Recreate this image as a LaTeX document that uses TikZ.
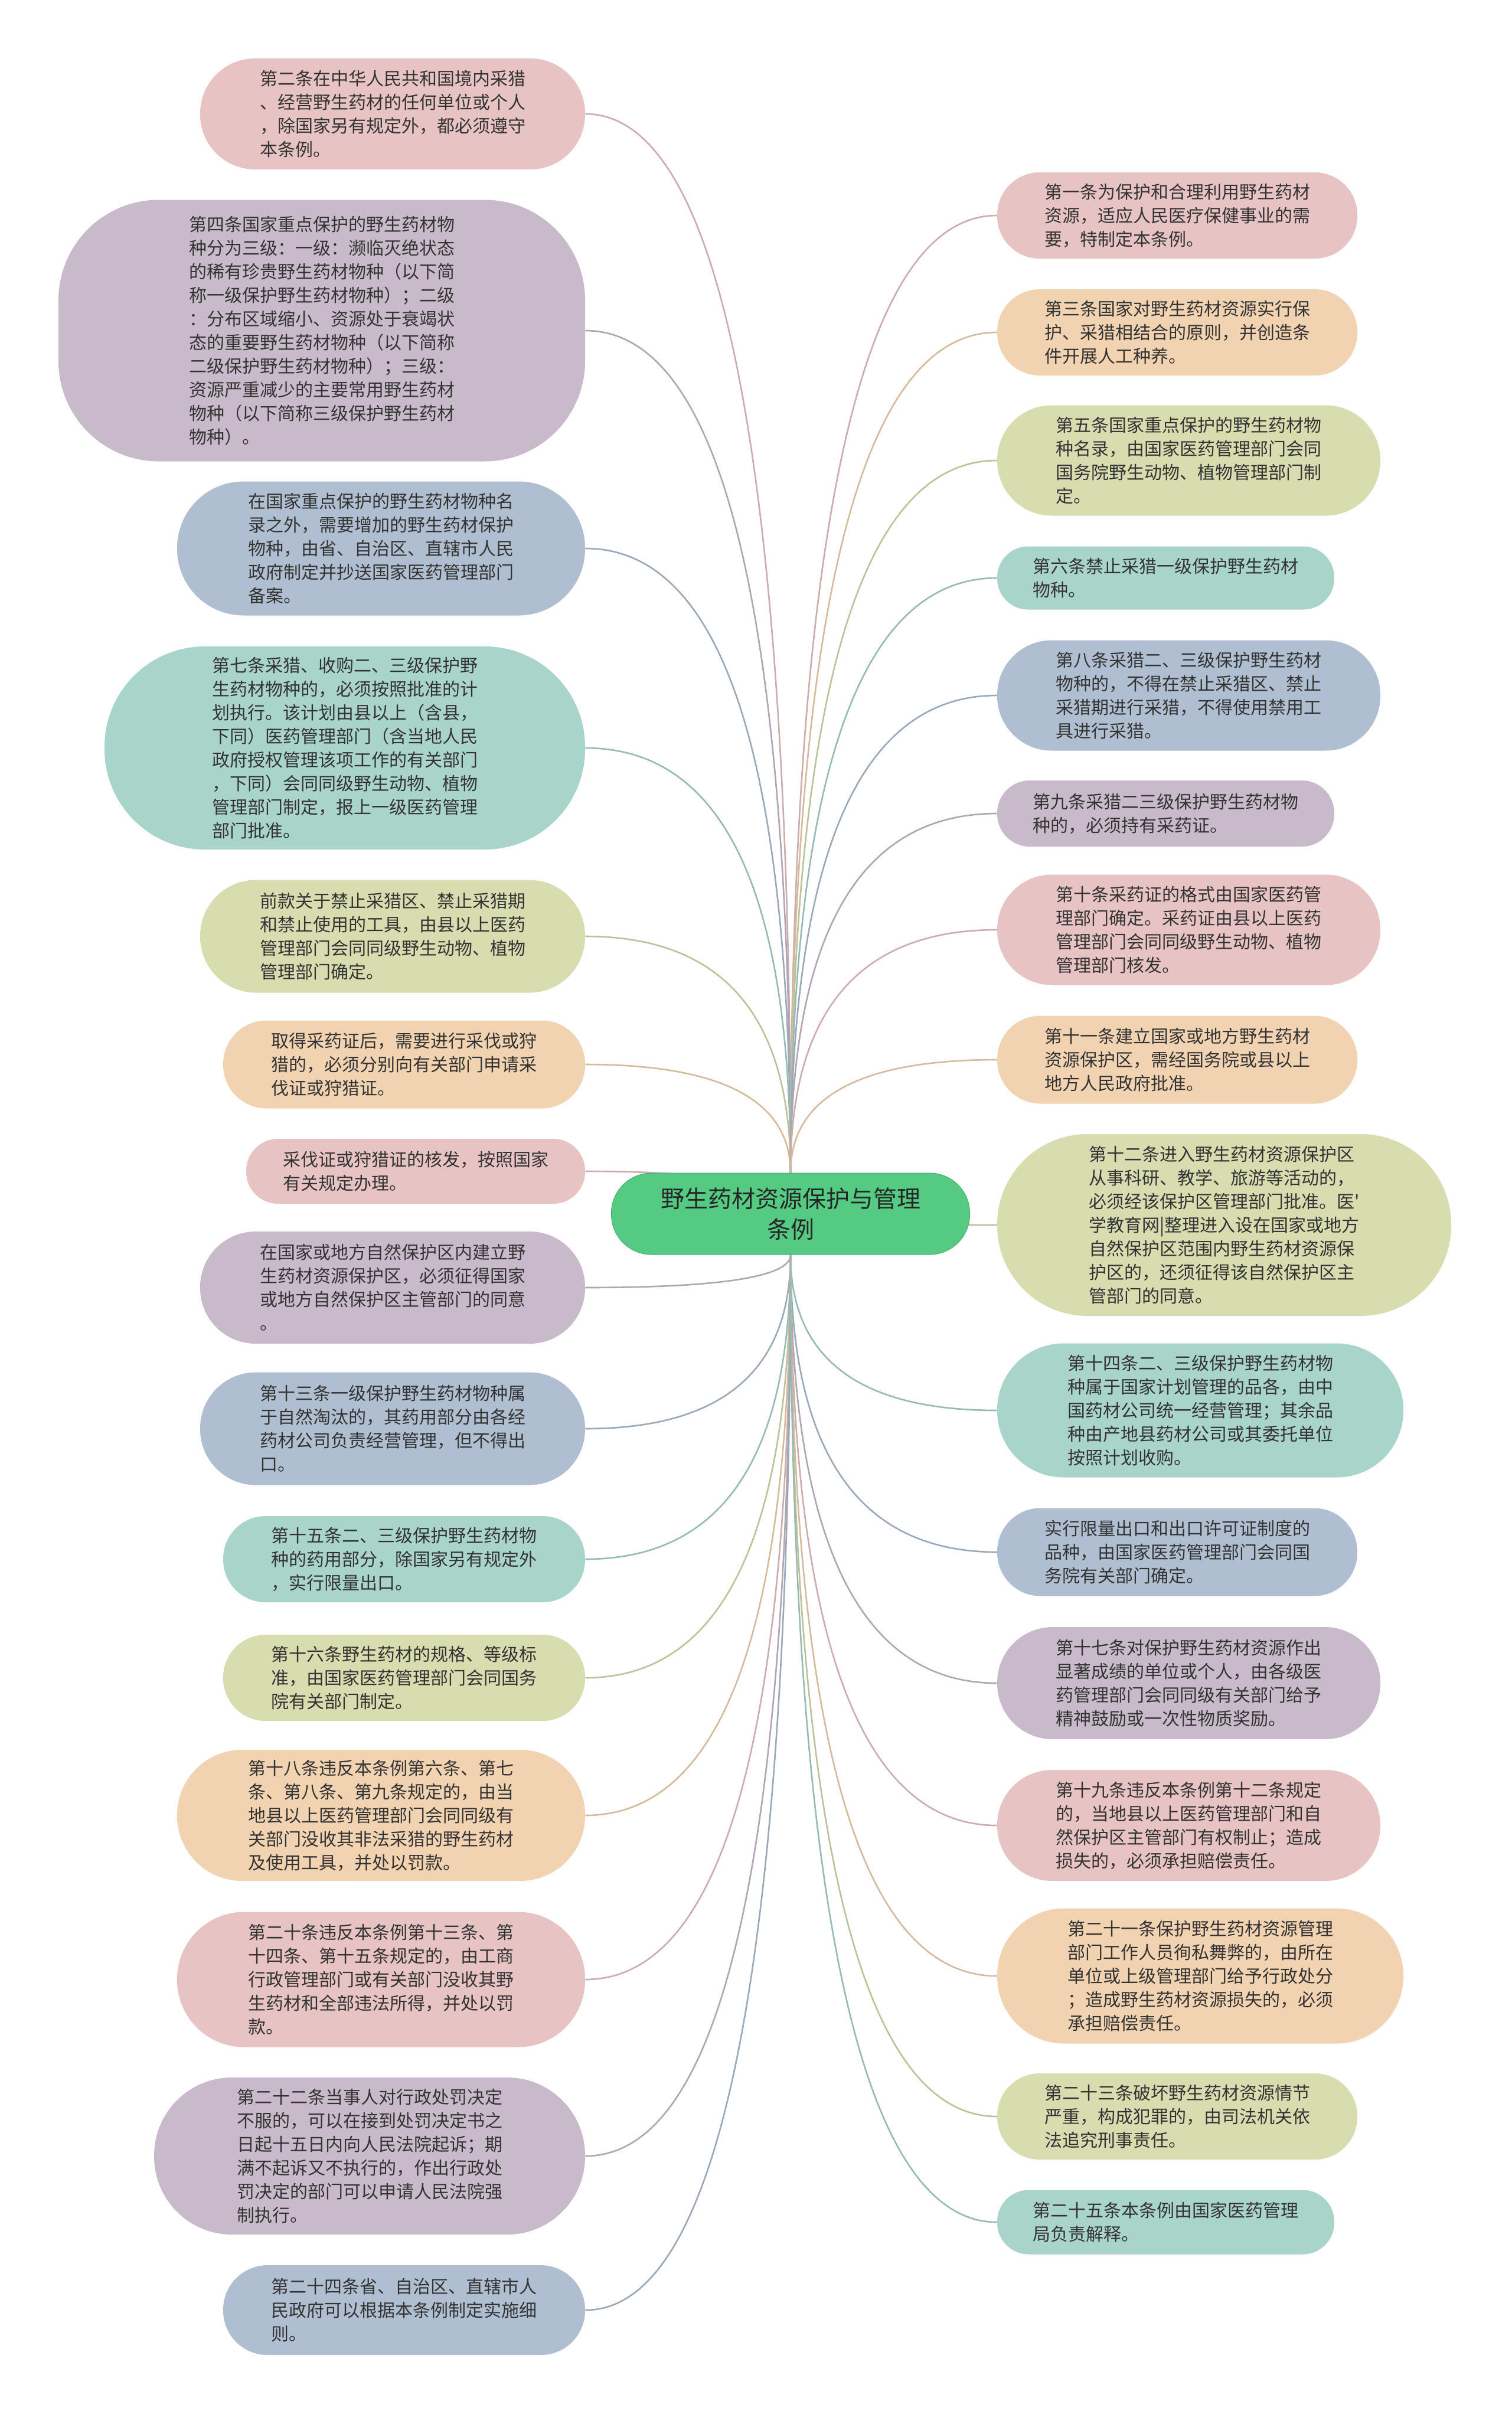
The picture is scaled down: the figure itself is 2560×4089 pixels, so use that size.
\documentclass[tikz,border=0pt]{standalone}
\usepackage{fontspec}
\newfontfamily\cjk{Noto Sans CJK SC}
\usetikzlibrary{backgrounds,calc}
\definecolor{cpink}{HTML}{E8C3C3}
\definecolor{cpurple}{HTML}{C9BACB}
\definecolor{cblue}{HTML}{AFBFD1}
\definecolor{cteal}{HTML}{A9D4CA}
\definecolor{colive}{HTML}{D7DDAF}
\definecolor{cpeach}{HTML}{F2D3B1}
\definecolor{cgreen}{HTML}{54CA83}
\definecolor{ctext}{HTML}{333333}
\tikzset{
  leaf/.style={draw=none, align=left, inner sep=0pt, text=ctext,
    font=\cjk\fontsize{15}{20}\selectfont},
  root/.style={fill=cgreen, draw=cgreen!85!black, line width=0.5pt, align=center,
    text=black!85, font=\cjk\fontsize{20}{26}\selectfont,
    minimum width=303.5pt, minimum height=69pt, rounded corners=34pt},
  link/.style={line width=1.3pt}
}
\newcommand\leaf[7]{%
  \pgfmathsetmacro\ww{#4*0.5}%
  \pgfmathsetmacro\hh{#5*0.5}%
  \pgfmathsetmacro\rr{min(#5/2-1,170)*0.5}%
  \node[leaf, fill=#6, minimum width=\ww pt, minimum height=\hh pt,
    rounded corners=\rr pt] (#1) at (#2,#3) {#7};}
\begin{document}
\begin{tikzpicture}[x=0.5pt,y=-0.5pt]
\useasboundingbox (0,0) rectangle (2560,4089);

\node[root] (C) at (1339,2056) {野生药材资源保护与管理\\条例};

% left side
\leaf{L1}{665}{193}{652}{188}{cpink}{第二条在中华人民共和国境内采猎\\、经营野生药材的任何单位或个人\\，除国家另有规定外，都必须遵守\\本条例。}
\leaf{L2}{545}{560}{892}{443}{cpurple}{第四条国家重点保护的野生药材物\\种分为三级：一级：濒临灭绝状态\\的稀有珍贵野生药材物种（以下简\\称一级保护野生药材物种）；二级\\：分布区域缩小、资源处于衰竭状\\态的重要野生药材物种（以下简称\\二级保护野生药材物种）；三级：\\资源严重减少的主要常用野生药材\\物种（以下简称三级保护野生药材\\物种）。}
\leaf{L3}{645.5}{929}{691}{227}{cblue}{在国家重点保护的野生药材物种名\\录之外，需要增加的野生药材保护\\物种，由省、自治区、直辖市人民\\政府制定并抄送国家医药管理部门\\备案。}
\leaf{L4}{584}{1267}{814}{344}{cteal}{第七条采猎、收购二、三级保护野\\生药材物种的，必须按照批准的计\\划执行。该计划由县以上（含县，\\下同）医药管理部门（含当地人民\\政府授权管理该项工作的有关部门\\，下同）会同同级野生动物、植物\\管理部门制定，报上一级医药管理\\部门批准。}
\leaf{L5}{665}{1586}{652}{191}{colive}{前款关于禁止采猎区、禁止采猎期\\和禁止使用的工具，由县以上医药\\管理部门会同同级野生动物、植物\\管理部门确定。}
\leaf{L6}{684.5}{1803}{613}{149}{cpeach}{取得采药证后，需要进行采伐或狩\\猎的，必须分别向有关部门申请采\\伐证或狩猎证。}
\leaf{L7}{704}{1984}{574}{110}{cpink}{采伐证或狩猎证的核发，按照国家\\有关规定办理。}
\leaf{L8}{665}{2181}{652}{190}{cpurple}{在国家或地方自然保护区内建立野\\生药材资源保护区，必须征得国家\\或地方自然保护区主管部门的同意\\。}
\leaf{L9}{665}{2420}{652}{191}{cblue}{第十三条一级保护野生药材物种属\\于自然淘汰的，其药用部分由各经\\药材公司负责经营管理，但不得出\\口。}
\leaf{L10}{684.5}{2641}{613}{146}{cteal}{第十五条二、三级保护野生药材物\\种的药用部分，除国家另有规定外\\，实行限量出口。}
\leaf{L11}{684.5}{2842}{613}{146}{colive}{第十六条野生药材的规格、等级标\\准，由国家医药管理部门会同国务\\院有关部门制定。}
\leaf{L12}{645.5}{3075}{691}{222}{cpeach}{第十八条违反本条例第六条、第七\\条、第八条、第九条规定的，由当\\地县以上医药管理部门会同同级有\\关部门没收其非法采猎的野生药材\\及使用工具，并处以罚款。}
\leaf{L13}{645.5}{3353}{691}{229}{cpink}{第二十条违反本条例第十三条、第\\十四条、第十五条规定的，由工商\\行政管理部门或有关部门没收其野\\生药材和全部违法所得，并处以罚\\款。}
\leaf{L14}{626}{3652}{730}{266}{cpurple}{第二十二条当事人对行政处罚决定\\不服的，可以在接到处罚决定书之\\日起十五日内向人民法院起诉；期\\满不起诉又不执行的，作出行政处\\罚决定的部门可以申请人民法院强\\制执行。}
\leaf{L15}{684.5}{3913}{613}{152}{cblue}{第二十四条省、自治区、直辖市人\\民政府可以根据本条例制定实施细\\则。}

% right side
\leaf{R1}{1994}{365}{610}{146}{cpink}{第一条为保护和合理利用野生药材\\资源，适应人民医疗保健事业的需\\要，特制定本条例。}
\leaf{R2}{1994}{563}{610}{146}{cpeach}{第三条国家对野生药材资源实行保\\护、采猎相结合的原则，并创造条\\件开展人工种养。}
\leaf{R3}{2013.5}{780}{649}{187}{colive}{第五条国家重点保护的野生药材物\\种名录，由国家医药管理部门会同\\国务院野生动物、植物管理部门制\\定。}
\leaf{R4}{1974.5}{979}{571}{107}{cteal}{第六条禁止采猎一级保护野生药材\\物种。}
\leaf{R5}{2013.5}{1178}{649}{187}{cblue}{第八条采猎二、三级保护野生药材\\物种的，不得在禁止采猎区、禁止\\采猎期进行采猎，不得使用禁用工\\具进行采猎。}
\leaf{R6}{1974.5}{1378}{571}{112}{cpurple}{第九条采猎二三级保护野生药材物\\种的，必须持有采药证。}
\leaf{R7}{2013.5}{1575}{649}{187}{cpink}{第十条采药证的格式由国家医药管\\理部门确定。采药证由县以上医药\\管理部门会同同级野生动物、植物\\管理部门核发。}
\leaf{R8}{1994}{1795}{610}{149}{cpeach}{第十一条建立国家或地方野生药材\\资源保护区，需经国务院或县以上\\地方人民政府批准。}
\leaf{R9}{2073.5}{2075}{769}{308}{colive}{第十二条进入野生药材资源保护区\\从事科研、教学、旅游等活动的，\\必须经该保护区管理部门批准。医'\\学教育网|整理进入设在国家或地方\\自然保护区范围内野生药材资源保\\护区的，还须征得该自然保护区主\\管部门的同意。}
\leaf{R10}{2033}{2389}{688}{227}{cteal}{第十四条二、三级保护野生药材物\\种属于国家计划管理的品各，由中\\国药材公司统一经营管理；其余品\\种由产地县药材公司或其委托单位\\按照计划收购。}
\leaf{R11}{1994}{2629}{610}{149}{cblue}{实行限量出口和出口许可证制度的\\品种，由国家医药管理部门会同国\\务院有关部门确定。}
\leaf{R12}{2013.5}{2851}{649}{190}{cpurple}{第十七条对保护野生药材资源作出\\显著成绩的单位或个人，由各级医\\药管理部门会同同级有关部门给予\\精神鼓励或一次性物质奖励。}
\leaf{R13}{2013.5}{3092}{649}{188}{cpink}{第十九条违反本条例第十二条规定\\的，当地县以上医药管理部门和自\\然保护区主管部门有权制止；造成\\损失的，必须承担赔偿责任。}
\leaf{R14}{2033}{3347}{688}{229}{cpeach}{第二十一条保护野生药材资源管理\\部门工作人员徇私舞弊的，由所在\\单位或上级管理部门给予行政处分\\；造成野生药材资源损失的，必须\\承担赔偿责任。}
\leaf{R15}{1994}{3585}{610}{146}{colive}{第二十三条破坏野生药材资源情节\\严重，构成犯罪的，由司法机关依\\法追究刑事责任。}
\leaf{R16}{1974.5}{3764}{571}{109}{cteal}{第二十五条本条例由国家医药管理\\局负责解释。}

\begin{scope}[on background layer]
\fill[white] (0,0) rectangle (2560,4089);
\foreach \n/\c/\s/\a in {
  L1/cpink/north/east, L2/cpurple/north/east, L3/cblue/north/east,
  L4/cteal/north/east, L5/colive/north/east, L6/cpeach/north/east,
  L7/cpink/center/east, L8/cpurple/south/east, L9/cblue/south/east,
  L10/cteal/south/east, L11/colive/south/east, L12/cpeach/south/east,
  L13/cpink/south/east, L14/cpurple/south/east, L15/cblue/south/east,
  R1/cpink/north/west, R2/cpeach/north/west, R3/colive/north/west,
  R4/cteal/north/west, R5/cblue/north/west, R6/cpurple/north/west,
  R7/cpink/north/west, R8/cpeach/north/west, R9/colive/center/west,
  R10/cteal/south/west, R11/cblue/south/west, R12/cpurple/south/west,
  R13/cpink/south/west, R14/cpeach/south/west, R15/colive/south/west,
  R16/cteal/south/west}
{
  \coordinate (q) at (C.\s |- \n.\a);
  \draw[link, draw=\c!88!black] (C.\s)
    .. controls ($(C.\s)!0.6667!(q)$) and ($(\n.\a)!0.6667!(q)$) .. (\n.\a);
}
\end{scope}
\end{tikzpicture}
\end{document}
